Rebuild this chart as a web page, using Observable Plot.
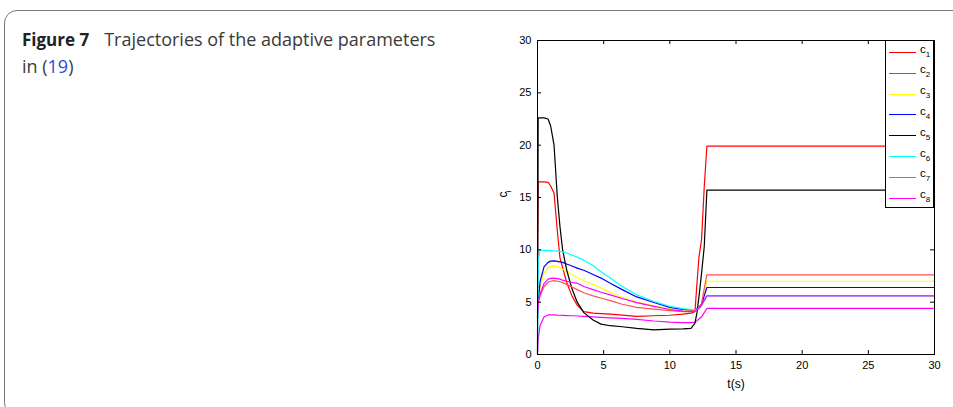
<!DOCTYPE html>
<html>
<head>
<meta charset="utf-8">
<script src="https://cdn.jsdelivr.net/npm/d3@7"></script>
<script src="https://cdn.jsdelivr.net/npm/@observablehq/plot@0.6"></script>
<style>
  html, body { margin: 0; padding: 0; background: #fff; }
  #wrap { position: relative; width: 953px; height: 407px; overflow: hidden; }
  #border { position: absolute; left: 4px; top: 10px; width: 980px; height: 406px;
            border: 1.5px solid #7a7a7a; border-radius: 13px; box-sizing: border-box; }
  #caption { position: absolute; left: 22px; top: 26px; width: 460px;
             font-family: "Open Sans", sans-serif; font-size: 18px; line-height: 26px; color: #3a3a3a; }
  #caption b { color: #222; font-weight: 700; font-size: 17px; margin-right: 15px; }
  #caption .ref { color: #2d4bd6; }
  #chart { position: absolute; left: 0; top: 0; }
  #legend { position: absolute; left: 885px; top: 40px; width: 49px; height: 168px;
            border: 1px solid #000; background: #fff; box-sizing: border-box;
            font-family: "Liberation Sans", Arial, sans-serif; font-size: 11.5px; color: #000; }
  .row { position: absolute; left: 3px; height: 0; }
  .row .sw { position: absolute; left: 0; top: -0.6px; width: 27px; height: 0; border-top: 1.2px solid; }
  .row .lb { position: absolute; left: 31px; top: -10px; line-height: 12px; white-space: nowrap; }
  .row .lb sub { font-size: 8px; vertical-align: -4px; line-height: 0; }
</style>
</head>
<body>
<div id="wrap">
  <div id="border"></div>
  <div id="chart"></div>
  <div id="legend"></div>
  <div id="caption"><b>Figure 7</b>Trajectories of the adaptive parameters<br>in (<span class="ref">19</span>)</div>
</div>
<script>
// time grid (s)
const t  = [0, 0.05, 0.2, 0.5, 0.8, 1.0, 1.25, 1.5, 1.7, 1.9, 2.2, 2.6, 3.0, 3.5, 4.2, 4.8, 5.5, 6.4, 7.5, 8.8, 10, 11, 11.6, 11.9, 12.05, 12.2, 12.4, 12.6, 12.8, 30];
const c1 = [9, 16.5, 16.5, 16.5, 16.45, 16.1, 15.4, 11.8, 9.2, 8.3, 6.9, 5.6, 4.7, 4.1, 3.95, 3.9, 3.85, 3.76, 3.65, 3.7, 3.75, 3.85, 3.95, 4.1, 6.8, 9.3, 11.0, 16.0, 19.9, 19.9];
const c2 = [0.2, 1.5, 2.8, 3.6, 3.78, 3.8, 3.78, 3.76, 3.75, 3.74, 3.72, 3.7, 3.68, 3.65, 3.6, 3.55, 3.5, 3.45, 3.35, 3.2, 3.1, 3.05, 3.05, 3.1, 3.2, 3.4, 3.6, 4.0, 4.4, 4.4];
const c3 = [4.5, 5.3, 6.5, 7.8, 8.3, 8.42, 8.45, 8.4, 8.3, 8.15, 7.95, 7.65, 7.35, 7.05, 6.7, 6.35, 5.95, 5.45, 5.0, 4.65, 4.35, 4.22, 4.2, 4.25, 4.35, 4.5, 4.8, 5.8, 7.0, 7.0];
const c4 = [3.5, 5.0, 7.0, 8.4, 8.8, 8.92, 8.95, 8.9, 8.85, 8.8, 8.65, 8.45, 8.25, 8.05, 7.65, 7.3, 6.8, 6.2, 5.5, 4.97, 4.5, 4.3, 4.25, 4.3, 4.4, 4.55, 4.8, 5.6, 6.4, 6.4];
const c5 = [0, 22.6, 22.6, 22.6, 22.5, 21.8, 20.0, 15.0, 12.2, 10.0, 8.1, 6.3, 5.0, 4.0, 3.3, 2.9, 2.75, 2.65, 2.5, 2.36, 2.42, 2.45, 2.5, 3.0, 4.0, 5.5, 7.8, 10.3, 15.7, 15.7];
const c6 = [0.4, 9.0, 9.95, 9.95, 9.95, 9.93, 9.9, 9.88, 9.85, 9.8, 9.7, 9.5, 9.3, 9.0, 8.5, 7.9, 7.3, 6.5, 5.7, 5.06, 4.6, 4.38, 4.3, 4.3, 4.35, 4.45, 4.65, 5.1, 5.6, 5.6];
const c7 = [4.5, 5.0, 5.6, 6.5, 6.9, 7.0, 7.05, 7.0, 6.95, 6.85, 6.7, 6.45, 6.2, 5.9, 5.6, 5.4, 5.15, 4.8, 4.5, 4.33, 4.2, 4.1, 4.1, 4.15, 4.3, 4.5, 4.9, 6.3, 7.6, 7.6];
const c8 = [4.0, 4.8, 5.8, 6.8, 7.2, 7.28, 7.3, 7.25, 7.2, 7.1, 7.0, 6.9, 6.8, 6.5, 6.2, 5.95, 5.7, 5.35, 4.95, 4.6, 4.3, 4.15, 4.1, 4.15, 4.25, 4.4, 4.7, 5.2, 5.6, 5.6];

const seriesNames = ["c1", "c2", "c3", "c4", "c5", "c6", "c7", "c8"];
const seriesSubs  = ["1", "2", "3", "4", "5", "6", "7", "8"];
const seriesColors = ["#ff0000", "#ff00ff", "#ffff00", "#0000ff", "#000000", "#00ffff", "#ff5050", "#ff00ff"];
const xTicks = [0, 5, 10, 15, 20, 25, 30];
const yTicks = [0, 5, 10, 15, 20, 25, 30];
const xLabel = "t(s)";

const allValues = [c1, c2, c3, c4, c5, c6, c7, c8];
const rows = allValues.flatMap((vals, i) => vals.map((v, j) => ({series: seriesNames[i], t: t[j], v})));

const font = "'Liberation Sans', Arial, sans-serif";
const chart = Plot.plot({
  width: 953, height: 407,
  marginLeft: 537, marginRight: 19, marginTop: 40, marginBottom: 53,
  style: {fontFamily: font, fontSize: "11px", color: "#000", background: "transparent"},
  x: {domain: [0, 30]},
  y: {domain: [0, 30]},
  color: {domain: seriesNames, range: seriesColors},
  marks: [
    Plot.line(rows, {x: "t", y: "v", z: "series", stroke: "series", strokeWidth: 1.2, curve: "linear"}),
    Plot.frame({stroke: "#000", strokeWidth: 1}),
    Plot.ruleX(xTicks, {x: d => d, insetTop: 310, stroke: "#000"}),
    Plot.ruleX(xTicks, {x: d => d, insetBottom: 310, stroke: "#000"}),
    Plot.ruleY(yTicks, {y: d => d, insetRight: 393, stroke: "#000"}),
    Plot.ruleY(yTicks, {y: d => d, insetLeft: 393, stroke: "#000"}),
    Plot.axisX(xTicks, {tickSize: 0, tickPadding: 7, label: null, fontSize: 11}),
    Plot.axisY(yTicks, {tickSize: 0, tickPadding: 6, label: null, fontSize: 11}),
    Plot.text([xLabel], {frameAnchor: "bottom", dy: 33, text: d => d, fontSize: 12, textAnchor: "middle"}),
    Plot.text(["c"], {frameAnchor: "left", dx: -34, text: d => d, rotate: -90, fontSize: 12}),
    Plot.text(["i"], {frameAnchor: "left", dx: -29, dy: -5, text: d => d, rotate: -90, fontSize: 8})
  ]
});
document.getElementById("chart").appendChild(chart);

// legend built from the series arrays
const legend = document.getElementById("legend");
seriesNames.forEach((name, i) => {
  const row = document.createElement("div");
  row.className = "row";
  row.style.top = (11.5 + i * 20.8) + "px";
  const sw = document.createElement("div");
  sw.className = "sw";
  sw.style.borderTopColor = seriesColors[i];
  const lb = document.createElement("div");
  lb.className = "lb";
  lb.innerHTML = "c<sub>" + seriesSubs[i] + "</sub>";
  row.appendChild(sw); row.appendChild(lb);
  legend.appendChild(row);
});
</script>
</body>
</html>
